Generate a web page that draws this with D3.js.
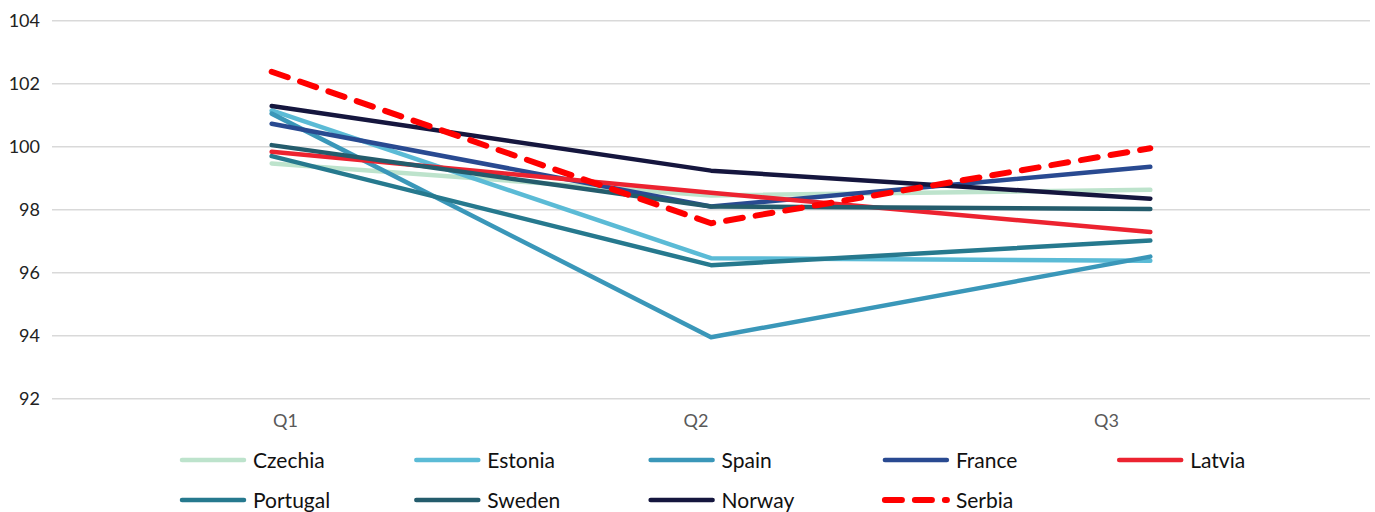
<!DOCTYPE html>
<html>
<head>
<meta charset="utf-8">
<script src="https://cdn.jsdelivr.net/npm/d3@7"></script>
<style>
  html, body { margin: 0; padding: 0; background: #fff; }
  svg { display: block; }
</style>
</head>
<body>
<svg id="chart" width="1375" height="512"></svg>
<script>
// Quarterly index values by country
const quarters = ["Q1", "Q2", "Q3"];
const countries = ["Czechia", "Estonia", "Spain", "France", "Latvia", "Portugal", "Sweden", "Norway", "Serbia"];
const czechia  = [99.47, 98.45, 98.63];
const estonia  = [101.15, 96.46, 96.38];
const spain    = [101.05, 93.95, 96.51];
const france   = [100.73, 98.10, 99.36];
const latvia   = [99.84, 98.54, 97.29];
const portugal = [99.70, 96.24, 97.02];
const sweden   = [100.05, 98.10, 98.02];
const norway   = [101.29, 99.24, 98.35];
const serbia   = [102.38, 97.57, 99.95];
const yTicks = [92, 94, 96, 98, 100, 102, 104];

const seriesValues = [czechia, estonia, spain, france, latvia, portugal, sweden, norway, serbia];
const colors = ["#bde3cc", "#5bbbd6", "#3a97b9", "#294a91", "#ec2330", "#26798e", "#245c6c", "#15163e", "#ff0000"];

const series = countries.map((name, i) => ({
  name,
  color: colors[i],
  dashed: name === "Serbia",
  values: seriesValues[i]
}));

const svg = d3.select("#chart");
const font = "Lato, 'Open Sans', sans-serif";

const x = d3.scaleBand().domain(quarters).range([52, 1370]).paddingInner(0).paddingOuter(0);
const xLabel = d3.scalePoint().domain(quarters).range([285, 1106]);
const y = d3.scaleLinear().domain([92, 104]).range([398.7, 20.7]);
const cx = q => x(q) + x.bandwidth() / 2;

// gridlines
svg.append("g")
  .selectAll("line")
  .data(yTicks)
  .join("line")
  .attr("x1", 52).attr("x2", 1370)
  .attr("y1", d => y(d)).attr("y2", d => y(d))
  .attr("stroke", "#d9d9d9")
  .attr("stroke-width", 1.5);

// y axis labels
const yAxis = d3.axisLeft(y).tickValues(yTicks).tickSize(0).tickPadding(0).tickFormat(d3.format("d"));
const yg = svg.append("g").attr("transform", "translate(40,0)").call(yAxis);
yg.select(".domain").remove();
yg.selectAll("text")
  .attr("font-family", font)
  .attr("font-size", 18)
  .attr("fill", "#222");

// category labels
const xAxis = d3.axisBottom(xLabel).tickSize(0).tickPadding(0);
const xg = svg.append("g").attr("transform", "translate(0,414)").call(xAxis);
xg.select(".domain").remove();
xg.selectAll("text")
  .attr("dy", "0.71em")
  .attr("font-family", font)
  .attr("font-size", 18)
  .attr("fill", "#595959");

// series lines
const line = d3.line()
  .x((d, i) => cx(quarters[i]))
  .y(d => y(d));

svg.append("g")
  .selectAll("path")
  .data(series)
  .join("path")
  .attr("d", d => line(d.values))
  .attr("fill", "none")
  .attr("stroke", d => d.color)
  .attr("stroke-width", d => d.dashed ? 6 : 4.5)
  .attr("stroke-linecap", "round")
  .attr("stroke-linejoin", "round")
  .attr("stroke-dasharray", d => d.dashed ? "17,13" : null);

// legend
const legendCol = d3.scaleLinear().domain([0, 1]).range([180, 414.3]);
const legendRow = d3.scaleLinear().domain([0, 1]).range([460, 500]);
const items = svg.append("g")
  .selectAll("g")
  .data(series)
  .join("g")
  .attr("transform", (d, i) => `translate(${legendCol(i % 5)},${legendRow(Math.floor(i / 5))})`);

items.append("line")
  .attr("x1", 2).attr("x2", 64)
  .attr("y1", 0).attr("y2", 0)
  .attr("stroke", d => d.color)
  .attr("stroke-width", d => d.dashed ? 6 : 4.5)
  .attr("stroke-linecap", "round")
  .attr("stroke-dasharray", d => d.dashed ? "17,13" : null);

items.append("text")
  .attr("x", 73)
  .attr("y", 0)
  .attr("dy", "0.36em")
  .attr("font-family", font)
  .attr("font-size", 21)
  .attr("fill", "#111")
  .text(d => d.name);
</script>
</body>
</html>
